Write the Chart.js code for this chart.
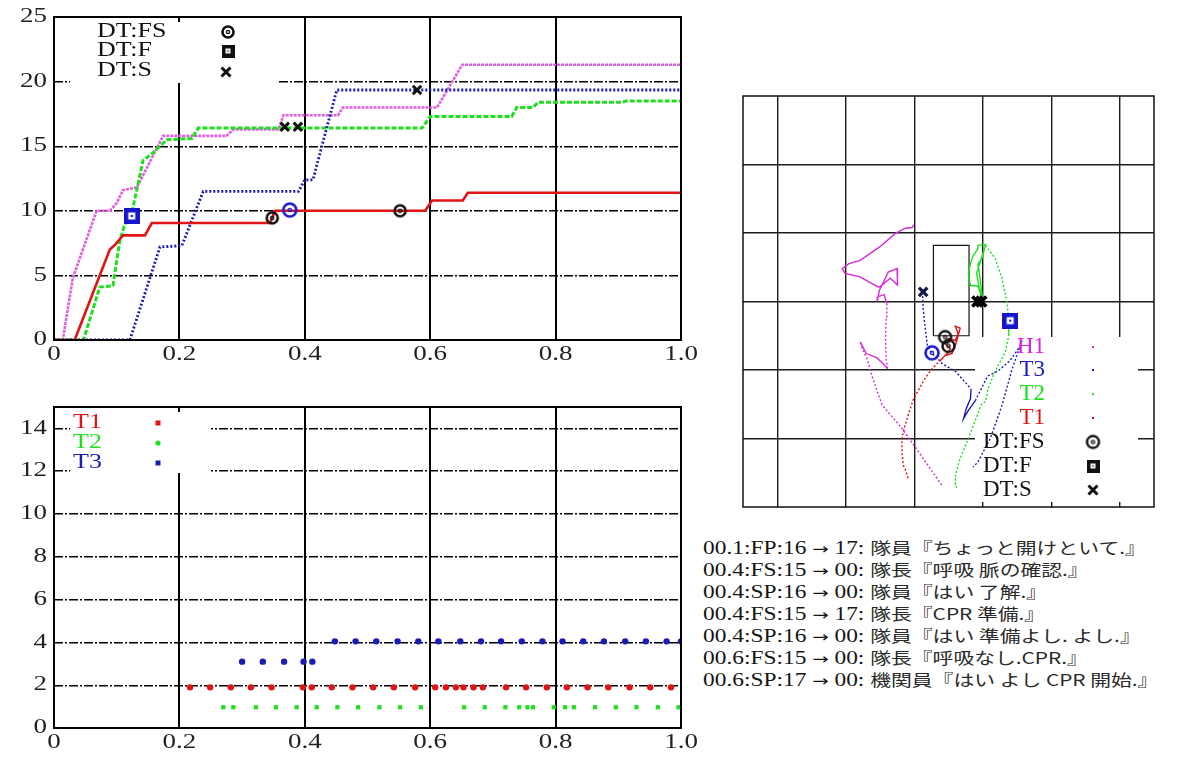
<!DOCTYPE html>
<html>
<head>
<meta charset="utf-8">
<script src="https://cdn.jsdelivr.net/npm/chart.js@4.4.1/dist/chart.umd.min.js"></script>
<style>
  body { margin: 0; background: #fff; }
  #page { position: relative; width: 1187px; height: 760px; overflow: hidden; }
  canvas { position: absolute; }
  #dialogue {
    position: absolute; left: 703px; top: 536px;
    font: 18px "Liberation Serif", "Noto Sans CJK JP", serif;
    line-height: 22px; color: #151515; white-space: pre;
    transform: scaleX(1.3); transform-origin: 0 0;
  }
  #dialogue div { height: 22px; }
  #dialogue .arr { font-family: "DejaVu Sans", sans-serif; font-size: 15px; }
  #dialogue .ja { font-family: "Noto Sans CJK JP", sans-serif; font-size: 16px; color: #2a2a2a; }
</style>
</head>
<body>
<div id="page">
  <canvas id="cum" width="700" height="372" style="left:0;top:0;width:700px;height:372px"></canvas>
  <canvas id="acts" width="700" height="370" style="left:0;top:390px;width:700px;height:370px"></canvas>
  <canvas id="map" width="450" height="440" style="left:720px;top:80px;width:450px;height:440px"></canvas>
  <div id="dialogue"></div>
</div>
<script>
// ---- data ----
const xTickVals = [0, 0.2, 0.4, 0.6, 0.8, 1]
const cumYTicks = [0, 5, 10, 15, 20, 25]
const actYTicks = [0, 2, 4, 6, 8, 10, 12, 14]

// cumulative curves (time, value)
const h1Cum = [[0,0],[0.014,0],[0.03,4.8],[0.068,10],[0.089,10],[0.1,10.6],[0.11,11.6],[0.132,11.8],[0.174,15.8],[0.275,15.8],[0.286,16.3],[0.358,16.3],[0.366,17.4],[0.453,17.4],[0.461,18.0],[0.611,18.0],[0.651,21.3],[1,21.3]]
const t2Cum = [[0,0],[0.047,0],[0.073,4.1],[0.094,4.2],[0.105,7.7],[0.112,8.8],[0.124,9.8],[0.142,13.9],[0.156,14.4],[0.18,15.5],[0.22,15.6],[0.23,16.4],[0.587,16.4],[0.6,17.3],[0.73,17.3],[0.738,18.0],[0.764,18.0],[0.772,18.4],[0.907,18.4],[0.912,18.5],[1,18.5]]
const t3Cum = [[0,0],[0.121,0],[0.169,7.2],[0.204,7.3],[0.238,11.5],[0.39,11.5],[0.4,12.4],[0.413,12.4],[0.451,19.35],[1,19.35]]
const t1Cum = [[0,0],[0.033,0],[0.089,7.0],[0.097,7.35],[0.11,8.1],[0.145,8.1],[0.156,9.05],[0.345,9.05],[0.352,10.0],[0.592,10.0],[0.603,10.8],[0.652,10.8],[0.66,11.4],[1,11.4]]

const cumFsBlack = [[0.348,9.45],[0.552,10.0]]
const cumFsBlue = [[0.376,10.06]]
const cumFBlue = [[0.124,9.6]]
const cumS = [[0.368,16.5],[0.389,16.5],[0.579,19.35]]

// action timings
const t1Level = 1.9
const t1Acts = [0.217,0.249,0.282,0.314,0.347,0.397,0.411,0.443,0.476,0.509,0.542,0.576,0.608,0.625,0.641,0.653,0.669,0.684,0.721,0.753,0.786,0.818,0.851,0.884,0.918,0.951,0.984]
const t2Level = 0.97
const t2Acts = [0.270,0.286,0.322,0.354,0.387,0.419,0.452,0.485,0.519,0.552,0.585,0.654,0.687,0.72,0.742,0.755,0.764,0.797,0.815,0.829,0.863,0.896,0.929,0.963,0.996]
const t3LevelA = 3.1
const t3ActsA = [0.300,0.333,0.367,0.398,0.412]
const t3LevelB = 4.05
const t3ActsB = [0.448,0.481,0.514,0.548,0.581,0.613,0.648,0.681,0.713,0.746,0.779,0.811,0.844,0.877,0.911,0.944,0.977,1.0]

// floor map paths (grid cells)
const mapXTicks = [0, 1, 2, 3, 4, 5]
const mapYTicks = [0, 1, 2, 3, 4]
const h1Path = [[2.40,-0.68],[2.06,-0.19],[1.82,0.15],[1.70,0.29],[1.53,0.49],[1.38,0.92],[1.31,1.17],[1.24,1.31],[1.21,1.41],[1.30,1.24],[1.45,1.18],[1.53,1.11],[1.61,1.02],[1.59,1.17],[1.58,1.46],[1.59,1.75],[1.60,1.97],[1.56,2.10],[1.47,2.07],[1.46,2.00],[1.49,2.16],[1.53,2.24],[1.62,2.43],[1.75,2.48],[1.76,2.31],[1.75,2.24],[1.65,2.34],[1.53,2.24],[1.48,2.21],[1.33,2.29],[1.21,2.36],[0.99,2.41],[0.95,2.48],[1.04,2.55],[1.21,2.60],[1.50,2.80],[1.72,2.99],[1.87,3.07],[1.97,3.08],[1.99,3.12]]
const t3Path = [[2.12,2.14],[2.13,1.90],[2.16,1.61],[2.19,1.36],[2.26,1.24],[2.34,1.17],[2.41,1.09],[2.60,0.98],[2.79,0.77],[2.83,0.72],[2.82,0.58],[2.76,0.44],[2.72,0.29],[2.79,0.41],[2.89,0.55],[3.07,0.91],[3.23,0.99],[3.40,1.14],[3.52,1.31],[3.55,1.36],[3.43,1.02],[3.28,0.48],[3.11,0],[2.93,-0.34],[2.86,-0.42]]
const t2Path = [[2.99,2.04],[2.93,2.23],[2.82,2.23],[2.79,2.41],[2.82,2.55],[2.86,2.67],[2.93,2.77],[2.93,2.82],[3.04,2.83],[2.99,2.63],[2.93,2.55],[2.96,2.34],[2.99,2.10],[2.95,2.19],[2.91,2.41],[3.04,2.82],[3.18,2.63],[3.28,2.34],[3.35,2.00],[3.38,1.75],[3.38,1.50],[3.33,1.27],[3.28,1.17],[3.18,0.98],[3.08,0.73],[3.04,0.54],[2.98,0.50],[2.92,0.34],[2.79,0],[2.67,-0.29],[2.60,-0.54],[2.60,-0.69],[2.63,-0.73]]
const t1Path = [[1.91,-0.58],[1.88,-0.48],[1.84,-0.39],[1.82,-0.19],[1.82,0],[1.84,0.10],[1.91,0.34],[1.99,0.58],[2.16,0.88],[2.26,1.02],[2.41,1.17],[2.47,1.23],[2.53,1.31],[2.44,1.39],[2.50,1.46],[2.60,1.43],[2.64,1.53],[2.60,1.64],[2.67,1.61],[2.61,1.39],[2.55,1.24],[2.45,1.21],[2.38,1.14]]
const roomRect = [[2.28,1.50],[2.28,2.82],[2.80,2.82],[2.80,1.50],[2.28,1.50]]

const mapFsBlack = [[2.45,1.48],[2.50,1.35]]
const mapFsBlue = [[2.26,1.25]]
const mapFBlue = [[3.40,1.72]]
const mapSNavy = [[2.13,2.14]]
const mapSBlack = [[2.92,2.0],[2.98,2.0]]

const dialogue = [
  '00.1:FP:16 → 17: 隊員『ちょっと開けといて.』',
  '00.4:FS:15 → 00: 隊長『呼吸 脈の確認.』',
  '00.4:SP:16 → 00: 隊員『はい 了解.』',
  '00.4:FS:15 → 17: 隊長『CPR 準備.』',
  '00.4:SP:16 → 00: 隊員『はい 準備よし. よし.』',
  '00.6:FS:15 → 00: 隊長『呼吸なし.CPR.』',
  '00.6:SP:17 → 00: 機関員『はい よし CPR 開始.』'
]

// ---- helpers ----
const FONT = '"Liberation Serif", "DejaVu Serif", serif'
const RED = '#e01414', GREEN = '#1ee01e', BLUE = '#1c1cb4', MAGENTA = '#e060e0'
const pts = arr => arr.map(([x, y]) => ({x, y}))

function ring(color, r, w) {
  const c = document.createElement('canvas')
  const s = Math.ceil(2 * r + w + 2)
  c.width = c.height = s
  const g = c.getContext('2d')
  g.strokeStyle = color
  g.lineWidth = w
  g.beginPath(); g.arc(s / 2, s / 2, r, 0, Math.PI * 2); g.stroke()
  g.lineWidth = 1.4
  g.beginPath(); g.arc(s / 2, s / 2, 1.6, 0, Math.PI * 2); g.stroke()
  return c
}

function boxMark(color, size) {
  const c = document.createElement('canvas')
  c.width = c.height = size
  const g = c.getContext('2d')
  g.fillStyle = color
  g.fillRect(0, 0, size, size)
  const inner = Math.round(size * 0.42)
  const o = (size - inner) / 2
  g.fillStyle = '#fff'
  g.fillRect(o, o, inner, inner)
  g.fillStyle = color
  g.fillRect(o + inner * 0.35, o + inner * 0.35, inner * 0.3, inner * 0.3)
  return c
}

function drawText(ctx, text, x, y, align, size, color, sx) {
  ctx.save()
  ctx.translate(x, y)
  ctx.scale(sx, 1)
  ctx.font = size + 'px ' + FONT
  ctx.fillStyle = color
  ctx.textAlign = align
  ctx.textBaseline = 'middle'
  ctx.fillText(text, 0, 0)
  ctx.restore()
}

function drawCross(ctx, x, y, r, w, color) {
  ctx.save()
  ctx.strokeStyle = color
  ctx.lineWidth = w
  ctx.beginPath()
  ctx.moveTo(x - r, y - r); ctx.lineTo(x + r, y + r)
  ctx.moveTo(x + r, y - r); ctx.lineTo(x - r, y + r)
  ctx.stroke()
  ctx.restore()
}

const gridAt = (lo, hi, color) => c => (c.tick && (c.tick.value === lo || c.tick.value === hi)) ? 'rgba(0,0,0,0)' : color

// left panels share the same frame, masks and wide tick labels
function panelPlugin(mask, legend) {
  return {
    id: 'panel',
    beforeDatasetsDraw(chart) {
      const {ctx} = chart
      ctx.save()
      ctx.fillStyle = '#fff'
      ctx.fillRect(mask[0], mask[1], mask[2], mask[3])
      ctx.restore()
    },
    afterDraw(chart) {
      const {ctx, chartArea: a, scales} = chart
      ctx.save()
      ctx.strokeStyle = '#000'
      ctx.lineWidth = 2
      ctx.strokeRect(a.left, a.top, a.right - a.left, a.bottom - a.top)
      ctx.restore()
      scales.y.ticks.forEach(t => {
        drawText(ctx, t.label, a.left - 7, scales.y.getPixelForValue(t.value), 'right', 20, '#222', 1.35)
      })
      scales.x.ticks.forEach(t => {
        drawText(ctx, t.label, scales.x.getPixelForValue(t.value), a.bottom + 15, 'center', 20, '#222', 1.35)
      })
      legend(ctx)
    }
  }
}

function leftScales(yMax, yTicks) {
  return {
    x: {
      type: 'linear', min: 0, max: 1,
      afterBuildTicks: ax => { ax.ticks = xTickVals.map(v => ({value: v})) },
      afterFit: ax => { ax.height = 32 },
      ticks: {display: false},
      grid: {color: gridAt(0, 1, '#000'), lineWidth: 2, drawTicks: false},
      border: {display: false}
    },
    y: {
      type: 'linear', min: 0, max: yMax,
      afterBuildTicks: ax => { ax.ticks = yTicks.map(v => ({value: v})) },
      afterFit: ax => { ax.width = 54 },
      ticks: {display: false},
      grid: {color: gridAt(0, yMax, '#000'), lineWidth: 1.4, drawTicks: false},
      border: {display: false, dash: [9, 2, 2, 2]}
    }
  }
}

const ringBlack = ring('#111', 5.5, 2.6)
const ringBlue = ring('#1a1ad0', 6.5, 2.6)
const squareBlue = boxMark('#1515cc', 16)
const squareBlack = boxMark('#111', 13)

// ---- top: cumulative counts ----
new Chart(document.getElementById('cum'), {
  type: 'scatter',
  data: {
    datasets: [
      {data: pts(cumFsBlack), pointStyle: ringBlack, pointRadius: 5},
      {data: pts(cumFsBlue), pointStyle: ringBlue, pointRadius: 5},
      {data: pts(cumFBlue), pointStyle: squareBlue, pointRadius: 5},
      {data: pts(cumS), pointStyle: 'crossRot', pointRadius: 6, pointBorderWidth: 3, borderColor: '#111', backgroundColor: '#111'},
      {data: pts(t1Cum), showLine: true, borderColor: RED, borderWidth: 2.6, pointRadius: 0},
      {data: pts(t3Cum), showLine: true, borderColor: BLUE, borderWidth: 2.8, borderDash: [2, 2], pointRadius: 0},
      {data: pts(t2Cum), showLine: true, borderColor: GREEN, borderWidth: 3, borderDash: [5, 2], pointRadius: 0},
      {data: pts(h1Cum), showLine: true, borderColor: MAGENTA, borderWidth: 2.6, borderDash: [3, 1], pointRadius: 0}
    ]
  },
  options: {
    responsive: false,
    animation: false,
    layout: {padding: {left: 0, top: 17, right: 19, bottom: 0}},
    scales: leftScales(25, cumYTicks),
    plugins: {legend: {display: false}, tooltip: {enabled: false}}
  },
  plugins: [panelPlugin([70, 22, 208, 61], ctx => {
    drawText(ctx, 'DT:FS', 97, 32, 'left', 20, '#111', 1.3)
    drawText(ctx, 'DT:F', 97, 51, 'left', 20, '#111', 1.3)
    drawText(ctx, 'DT:S', 97, 71, 'left', 20, '#111', 1.3)
    ctx.drawImage(ringBlack, 228 - ringBlack.width / 2, 32 - ringBlack.height / 2)
    ctx.drawImage(squareBlack, 228 - 6.5, 51 - 6.5)
    drawCross(ctx, 226, 72, 4.5, 3, '#111')
  })]
})

// ---- bottom: action timings ----
new Chart(document.getElementById('acts'), {
  type: 'scatter',
  data: {
    datasets: [
      {data: t1Acts.map(x => ({x, y: t1Level})), pointStyle: 'circle', pointRadius: 3.2, backgroundColor: RED, borderWidth: 0},
      {data: t3ActsA.map(x => ({x, y: t3LevelA})), pointStyle: 'circle', pointRadius: 3.2, backgroundColor: BLUE, borderWidth: 0},
      {data: t3ActsB.map(x => ({x, y: t3LevelB})), pointStyle: 'circle', pointRadius: 3.2, backgroundColor: BLUE, borderWidth: 0},
      {data: t2Acts.map(x => ({x, y: t2Level})), pointStyle: 'rect', pointRadius: 3, backgroundColor: GREEN, borderWidth: 0}
    ]
  },
  options: {
    responsive: false,
    animation: false,
    layout: {padding: {left: 0, top: 17, right: 19, bottom: 0}},
    scales: leftScales(15, actYTicks),
    plugins: {legend: {display: false}, tooltip: {enabled: false}}
  },
  plugins: [panelPlugin([70, 22, 141, 61], ctx => {
    drawText(ctx, 'T1', 73, 33, 'left', 20, RED, 1.3)
    drawText(ctx, 'T2', 73, 53, 'left', 20, GREEN, 1.3)
    drawText(ctx, 'T3', 73, 73, 'left', 20, BLUE, 1.3)
    ctx.fillStyle = RED; ctx.fillRect(155.5, 30.5, 5, 5)
    ctx.fillStyle = GREEN; ctx.beginPath(); ctx.arc(158, 53, 2.6, 0, Math.PI * 2); ctx.fill()
    ctx.fillStyle = BLUE; ctx.fillRect(155.5, 70.5, 5, 5)
  })]
})

// ---- right: floor map ----
const solidIn = ranges => c => ranges.some(([a, b]) => c.p0DataIndex >= a && c.p0DataIndex < b) ? [] : [2, 2]
const mapRing = ring('#111', 6, 2.4)
const mapRingBlue = ring('#1a1ad0', 6.5, 2.6)

new Chart(document.getElementById('map'), {
  type: 'scatter',
  data: {
    datasets: [
      {data: pts(mapFsBlack), pointStyle: mapRing, pointRadius: 5},
      {data: pts(mapFsBlue), pointStyle: mapRingBlue, pointRadius: 5},
      {data: pts(mapFBlue), pointStyle: squareBlue, pointRadius: 5},
      {data: pts(mapSNavy), pointStyle: 'crossRot', pointRadius: 6, pointBorderWidth: 3.2, borderColor: '#16164a'},
      {data: pts(mapSBlack), pointStyle: 'crossRot', pointRadius: 7, pointBorderWidth: 3.6, borderColor: '#000'},
      {data: pts(t1Path), showLine: true, borderColor: RED, borderWidth: 1.4, pointRadius: 0, segment: {borderDash: solidIn([[10, 99]])}},
      {data: pts(t3Path), showLine: true, borderColor: BLUE, borderWidth: 1.4, pointRadius: 0, segment: {borderDash: solidIn([[9, 14]])}},
      {data: pts(t2Path), showLine: true, borderColor: GREEN, borderWidth: 1.4, pointRadius: 0, segment: {borderDash: solidIn([[0, 15]])}},
      {data: pts(h1Path), showLine: true, borderColor: '#d62ad6', borderWidth: 1.4, pointRadius: 0, segment: {borderDash: solidIn([[8, 12], [16, 99]])}},
      {data: pts(roomRect), showLine: true, borderColor: '#111', borderWidth: 1.2, pointRadius: 0}
    ]
  },
  options: {
    responsive: false,
    animation: false,
    layout: {padding: {left: 23, top: 16, right: 16, bottom: 13}},
    scales: {
      x: {
        type: 'linear', min: -0.5, max: 5.5,
        afterBuildTicks: ax => { ax.ticks = mapXTicks.map(v => ({value: v})) },
        afterFit: ax => { ax.height = 0 },
        ticks: {display: false},
        grid: {color: '#1c1c1c', lineWidth: 1.4, drawTicks: false},
        border: {display: false}
      },
      y: {
        type: 'linear', min: -1, max: 5,
        afterBuildTicks: ax => { ax.ticks = mapYTicks.map(v => ({value: v})) },
        afterFit: ax => { ax.width = 0 },
        ticks: {display: false},
        grid: {color: '#1c1c1c', lineWidth: 1.4, drawTicks: false},
        border: {display: false}
      }
    },
    plugins: {legend: {display: false}, tooltip: {enabled: false}}
  },
  plugins: [{
    id: 'mapDeco',
    beforeDatasetsDraw(chart) {
      const {ctx} = chart
      ctx.save()
      ctx.fillStyle = '#fff'
      ctx.fillRect(255, 257, 163, 165)
      ctx.restore()
    },
    afterDraw(chart) {
      const {ctx, chartArea: a} = chart
      ctx.save()
      ctx.strokeStyle = '#111'
      ctx.lineWidth = 1.5
      ctx.strokeRect(a.left, a.top, a.right - a.left, a.bottom - a.top)
      ctx.restore()
      const rows = [['H1', '#e020e0', 267], ['T3', BLUE, 290], ['T2', GREEN, 314], ['T1', RED, 338]]
      rows.forEach(([t, c, y]) => {
        drawText(ctx, t, 325, y, 'right', 23, c, 1)
        ctx.fillStyle = c
        ctx.fillRect(372, y - 1, 2, 2)
      })
      drawText(ctx, 'DT:FS', 263, 362, 'left', 23, '#111', 1)
      drawText(ctx, 'DT:F', 263, 386, 'left', 23, '#111', 1)
      drawText(ctx, 'DT:S', 263, 410, 'left', 23, '#111', 1)
      ctx.drawImage(mapRing, 373 - mapRing.width / 2, 362 - mapRing.height / 2)
      ctx.drawImage(squareBlack, 373 - 6.5, 386 - 6.5)
      drawCross(ctx, 373, 410, 4.5, 3, '#111')
    }
  }]
})

// dialogue lines: code part in serif, arrow wider, speech in CJK font
const box = document.getElementById('dialogue')
dialogue.forEach(line => {
  const m = line.match(/^(.*?) → (\d+: )(.*)$/)
  const row = document.createElement('div')
  const head = document.createElement('span')
  head.textContent = m[1] + ' '
  const arr = document.createElement('span')
  arr.className = 'arr'
  arr.textContent = '→'
  const code = document.createElement('span')
  code.textContent = ' ' + m[2]
  const ja = document.createElement('span')
  ja.className = 'ja'
  ja.textContent = m[3]
  row.append(head, arr, code, ja)
  box.appendChild(row)
})
</script>
</body>
</html>
